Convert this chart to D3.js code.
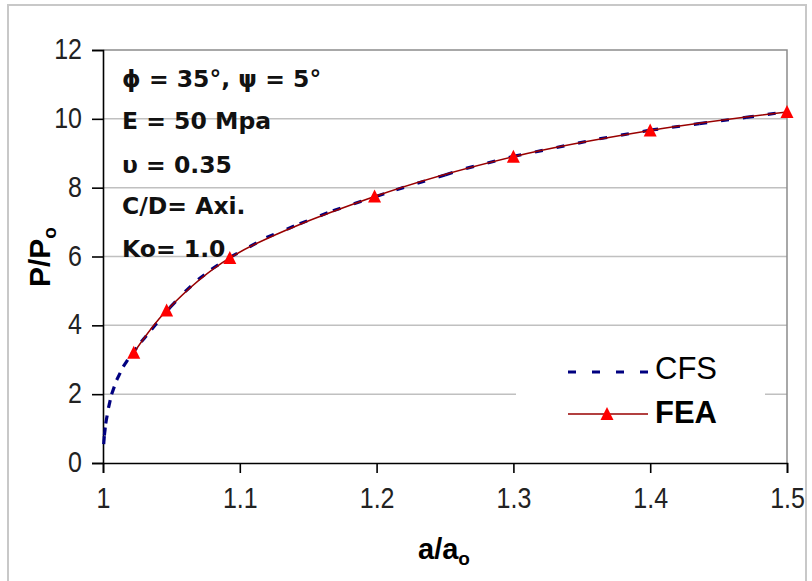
<!DOCTYPE html>
<html><head><meta charset="utf-8">
<script src="https://cdn.jsdelivr.net/npm/d3@7/dist/d3.min.js"></script>
<style>body{margin:0;background:#fff;}svg{display:block;}</style>
</head><body>
<svg id="c" width="812" height="581"></svg>
<script>
// ---- data ----
const xTicks = [1, 1.1, 1.2, 1.3, 1.4, 1.5];
const xTickLabels = ["1", "1.1", "1.2", "1.3", "1.4", "1.5"];
const yTicks = [0, 2, 4, 6, 8, 10, 12];
const yTickLabels = ["0", "2", "4", "6", "8", "10", "12"];
const cfsX = [1.0005, 1.001, 1.002, 1.004, 1.0063, 1.010, 1.0148, 1.021, 1.028, 1.0355, 1.049, 1.060, 1.0696, 1.0793, 1.093, 1.1195, 1.1438, 1.1681, 1.2, 1.2144, 1.25, 1.2655, 1.3, 1.3628, 1.4, 1.4358, 1.47, 1.5];
const cfsY = [0.55, 0.8, 1.15, 1.6, 2.0, 2.41, 2.8, 3.17, 3.52, 3.88, 4.52, 4.98, 5.33, 5.63, 5.98, 6.55, 6.95, 7.33, 7.75, 7.94, 8.37, 8.56, 8.91, 9.42, 9.67, 9.86, 10.04, 10.21];
const feaX = [1.0225, 1.0465, 1.0927, 1.1985, 1.3, 1.4, 1.5];
const feaY = [3.2, 4.43, 5.96, 7.74, 8.9, 9.66, 10.2];
const seriesNames = ["CFS", "FEA"];
const notes = ["\u03D5 = 35\u00B0, \u03C8 = 5\u00B0", "E = 50 Mpa", "\u03C5 = 0.35", "C/D= Axi.", "Ko= 1.0"];

// ---- chart ----
const svg = d3.select("#c");
const x = d3.scaleLinear().domain([1, 1.5]).range([103, 787]);
const y = d3.scaleLinear().domain([0, 12]).range([463, 50]);

// outer chart border
svg.append("rect").attr("x", 8).attr("y", 5).attr("width", 798).attr("height", 590)
  .attr("fill", "#fff").attr("stroke", "#c8c8c8").attr("stroke-width", 2);

// gridlines
svg.append("g").selectAll("line").data(yTicks.filter(d => d > 0 && d < 12)).join("line")
  .attr("x1", x(1)).attr("x2", x(1.5)).attr("y1", d => y(d)).attr("y2", d => y(d))
  .attr("stroke", "#c0c0c0").attr("stroke-width", 1.5);

// plot border top/right
svg.append("path")
  .attr("d", `M${x(1)},${y(12)}H${x(1.5)}V${y(0)}`)
  .attr("fill", "none").attr("stroke", "#8c8c8c").attr("stroke-width", 1.5);

// axes
const tickFont = "'Liberation Sans', Arial, sans-serif";
const yAxis = d3.axisLeft(y).tickValues(yTicks).tickFormat((d, i) => yTickLabels[i]).tickSize(11).tickPadding(10);
const gy = svg.append("g").attr("transform", `translate(${x(1)},0)`).call(yAxis);
const xAxis = d3.axisBottom(x).tickValues(xTicks).tickFormat((d, i) => xTickLabels[i]).tickSize(10).tickPadding(14);
const gx = svg.append("g").attr("transform", `translate(0,${y(0)})`).call(xAxis);
[gx, gy].forEach(g => {
  g.select(".domain").attr("stroke", "#000").attr("stroke-width", 1.6);
  g.selectAll(".tick line").attr("stroke", "#000").attr("stroke-width", 1.6);
  g.selectAll(".tick text").attr("font-family", tickFont).attr("font-size", 25).attr("fill", "#222")
    .attr("transform", "scale(1,1.15)");
});
gx.selectAll(".tick text").attr("dy", "0.62em");
gy.selectAll(".tick text").attr("dy", "0.3em");

// legend background
svg.append("rect").attr("x", 516).attr("y", 342).attr("width", 249).attr("height", 100).attr("fill", "#fff");

// CFS line: drawn segment by segment (dash restarts on each segment)
const cfs = cfsX.map((v, i) => [v, cfsY[i]]);
const fea = feaX.map((v, i) => [v, feaY[i]]);
const segs = d3.pairs(cfs);
svg.append("g").selectAll("line").data(segs).join("line")
  .attr("x1", d => x(d[0][0])).attr("y1", d => y(d[0][1]))
  .attr("x2", d => x(d[1][0])).attr("y2", d => y(d[1][1]))
  .attr("stroke", "#000080").attr("stroke-width", 3.2)
  .attr("stroke-dasharray", "8,14");
svg.append("path").datum(fea)
  .attr("d", d3.line().x(d => x(d[0])).y(d => y(d[1])).curve(d3.curveCatmullRom.alpha(0.5)))
  .attr("fill", "none").attr("stroke", "#990000").attr("stroke-width", 1.6);
const tri = (cx, cy) => `M${cx},${cy - 7}L${cx + 6.5},${cy + 6}L${cx - 6.5},${cy + 6}Z`;
svg.append("g").selectAll("path").data(fea).join("path")
  .attr("d", d => tri(x(d[0]), y(d[1]))).attr("fill", "#ff0000");

// legend
svg.append("line").attr("x1", 568).attr("x2", 648).attr("y1", 372).attr("y2", 372)
  .attr("stroke", "#000080").attr("stroke-width", 3.2).attr("stroke-dasharray", "8,16");
svg.append("line").attr("x1", 568).attr("x2", 648).attr("y1", 414).attr("y2", 414)
  .attr("stroke", "#990000").attr("stroke-width", 1.6);
svg.append("path").attr("d", tri(607, 414)).attr("fill", "#ff0000");
svg.append("text").attr("x", 655).attr("y", 379).text(seriesNames[0])
  .attr("font-family", tickFont).attr("font-size", 31).attr("fill", "#000");
svg.append("text").attr("x", 655).attr("y", 423).text(seriesNames[1])
  .attr("font-family", tickFont).attr("font-size", 31).attr("font-weight", "bold").attr("fill", "#000");

// annotations
const noteY = [87, 129, 173, 214, 257];
svg.append("g").selectAll("text").data(notes).join("text")
  .attr("x", 122).attr("y", (d, i) => noteY[i]).text(d => d)
  .attr("font-family", "'DejaVu Sans', Verdana, sans-serif").attr("font-weight", "bold")
  .attr("font-size", 23.5).attr("fill", "#111");

// axis titles
const xt = svg.append("text").attr("x", 444).attr("y", 559).attr("text-anchor", "middle")
  .attr("font-family", tickFont).attr("font-size", 29).attr("font-weight", "bold");
xt.append("tspan").text("a/a");
xt.append("tspan").text("o").attr("font-size", 19).attr("dy", 6);
const yt = svg.append("text").attr("transform", "translate(50,257) rotate(-90)").attr("text-anchor", "middle")
  .attr("font-family", tickFont).attr("font-size", 30).attr("font-weight", "bold");
yt.append("tspan").text("P/P");
yt.append("tspan").text("o").attr("font-size", 19).attr("dy", 6);
</script>
</body></html>
